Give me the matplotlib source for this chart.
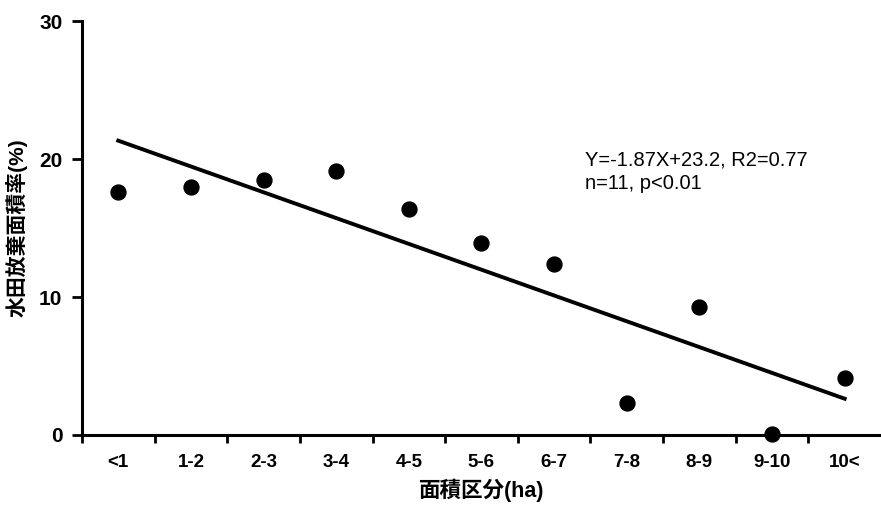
import numpy as np
import matplotlib.pyplot as plt

plt.rcParams['font.family'] = ['Liberation Sans', 'Noto Sans CJK JP', 'DejaVu Sans']

categories = ['<1', '1-2', '2-3', '3-4', '4-5', '5-6', '6-7', '7-8', '8-9', '9-10', '10<']
rate = [17.6, 18.0, 18.5, 19.15, 16.4, 13.9, 12.4, 2.3, 9.3, 0.1, 4.1]
slope = -1.87
intercept = 23.2

x = np.arange(len(categories))

fig = plt.figure(figsize=(8.81, 5.09), dpi=100)
ax = fig.add_axes([0.093, 0.1454, 0.907, 0.8133])

ax.scatter(x, rate, s=115, color='black', zorder=3, clip_on=False)
xx = np.array([1, len(categories)])
ax.plot(xx - 1, slope * xx + intercept, color='black', lw=2.8)

ax.text(6.42, 19.9, 'Y=-1.87X+23.2, R2=0.77', fontsize=14.5, va='center', ha='left')
ax.text(6.42, 18.25, 'n=11, p<0.01', fontsize=14.5, va='center', ha='left')

ax.set_xlim(-0.5, len(categories) - 0.5)
ax.set_ylim(0, 30)
ax.set_xticks(np.arange(-0.5, len(categories) - 0.5, 1))
ax.set_xticklabels([])
ax.set_xticks(x, minor=True)
ax.set_xticklabels(categories, minor=True, fontsize=13.5, fontweight='bold')
ax.tick_params(axis='x', which='minor', length=0, pad=14)
ax.tick_params(axis='x', which='major', length=6, width=2)
ax.set_yticks([0, 10, 20, 30])
ax.tick_params(axis='y', length=7, width=2, labelsize=15, pad=7)
for lab in ax.get_yticklabels():
    lab.set_fontweight('bold')

for s in ['top', 'right']:
    ax.spines[s].set_visible(False)
for s in ['left', 'bottom']:
    ax.spines[s].set_linewidth(2.2)

ax.set_xlabel('面積区分(ha)', fontsize=15.5, fontweight='bold', labelpad=5)
ax.set_ylabel('水田放棄面積率(%)', fontsize=15, fontweight='bold', labelpad=8)

fig.savefig('out.png', dpi=100)
